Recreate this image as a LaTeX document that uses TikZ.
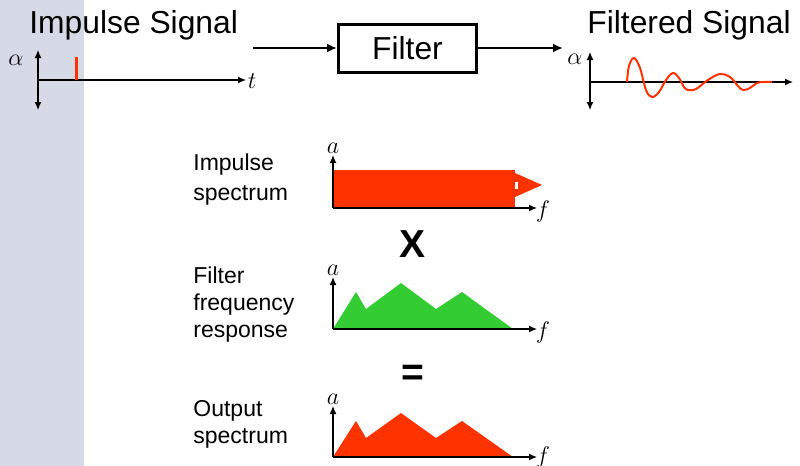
\documentclass[tikz,border=0pt]{standalone}
\usepackage{fontspec}
\setmainfont{Liberation Sans}
\usetikzlibrary{arrows.meta,positioning}
\definecolor{Band}{HTML}{D6DAE7}
\definecolor{Flame}{HTML}{FF3300}
\definecolor{Leaf}{HTML}{33CC33}

\begin{document}
\begin{tikzpicture}[
  x=0.5pt,y=-0.5pt,
  every node/.style={inner sep=0pt},
  title/.style={font=\fontsize{15.9}{18}\selectfont,anchor=base west},
  lbl/.style={font=\fontsize{11.5}{13.5}\selectfont,align=left,anchor=north west},
  sym/.style={font=\fontsize{12.5}{14}\selectfont},
  op/.style={font=\bfseries\fontsize{19.5}{22}\selectfont},
  box/.style={draw,line width=1.5pt,minimum width=69pt,minimum height=24pt,font=\fontsize{15.9}{18}\selectfont},
  ax/.style={-{Latex[length=4pt,width=3.5pt]},line width=0.65pt},
  conn/.style={-{Latex[length=5pt,width=4.5pt]},line width=1pt}
]
  \useasboundingbox (0,0) rectangle (800,466);
  \fill[Band] (0,0) rectangle (84,466);

  % signal chain
  \node[title] (insig) at (29,33) {Impulse Signal};
  \node[title] (outsig) at (587,33) {Filtered Signal};
  \node[box] (filter) at (407.5,48) {Filter};
  \coordinate (src) at (253,48);
  \coordinate (dst) at (563,48);
  \draw[conn] (src) -- (filter.west);
  \draw[conn] (filter.east) -- (dst);

  % impulse in time
  \coordinate (o1) at (38,80);
  \draw[ax] (o1) -- (38,50);
  \draw[ax] (o1) -- (38,110);
  \draw[ax] (o1) -- (246,80);
  \draw[Flame,line width=1.5pt] (76,80) -- (76,57);
  \node[sym] (al1) at (16,60) {$\alpha$};
  \node[sym] (t1) at (252,81) {$t$};

  % filtered signal in time
  \coordinate (o2) at (590,82);
  \draw[ax] (o2) -- (590,52);
  \draw[ax] (o2) -- (590,110);
  \draw[ax] (o2) -- (793,82);
  \draw[Flame,line width=1pt] plot[smooth,tension=0.6] coordinates {
    (627,82) (629,66) (634,58) (640,68) (646,90) (652,97) (659,92) (666,80)
    (673,73) (679,78) (684,87) (688,90) (696,89) (708,80) (720,74) (730,77)
    (738,86) (743,90) (750,88) (757,83) (764,82) (772,82)};
  \node[sym] (al2) at (575,59) {$\alpha$};

  % impulse spectrum
  \node[lbl] (lblin) at (193,153.5) {Impulse\\[1.5pt]spectrum};
  \fill[Flame] (333,170) rectangle (515,208);
  \fill[Flame] (515,173) -- (542,185) -- (515,197) -- cycle;
  \fill[white] (515,182) rectangle (518,189);
  \coordinate (s1) at (333,208);
  \draw[ax] (s1) -- (333,155);
  \draw[ax] (s1) -- (537,208);
  \node[sym] (a1) at (333,148) {$a$};
  \node[sym] (f1) at (543,211) {$f$};
  \node[op] (times) at (412.5,244) {X};

  % filter response
  \node[lbl] (lblfr) at (193,266) {Filter\\frequency\\response};
  \fill[Leaf] (333,329) -- (356,292) -- (366,309) -- (401,283) -- (436,309)
    -- (462,292) -- (513,329) -- cycle;
  \coordinate (s2) at (333,329);
  \draw[ax] (s2) -- (333,277);
  \draw[ax] (s2) -- (537,329);
  \node[sym] (a2) at (333,270) {$a$};
  \node[sym] (f2) at (543,332) {$f$};
  \node[op] (equals) at (412.5,375) {=};

  % output spectrum
  \node[lbl] (lblout) at (193,400) {Output\\spectrum};
  \fill[Flame] (333,457) -- (356,421) -- (366,438) -- (401,413) -- (436,438)
    -- (462,421) -- (513,457) -- cycle;
  \coordinate (s3) at (333,457);
  \draw[ax] (s3) -- (333,406);
  \draw[ax] (s3) -- (537,457);
  \node[sym] (a3) at (333,399) {$a$};
  \node[sym] (f3) at (543,457) {$f$};
\end{tikzpicture}
\end{document}
